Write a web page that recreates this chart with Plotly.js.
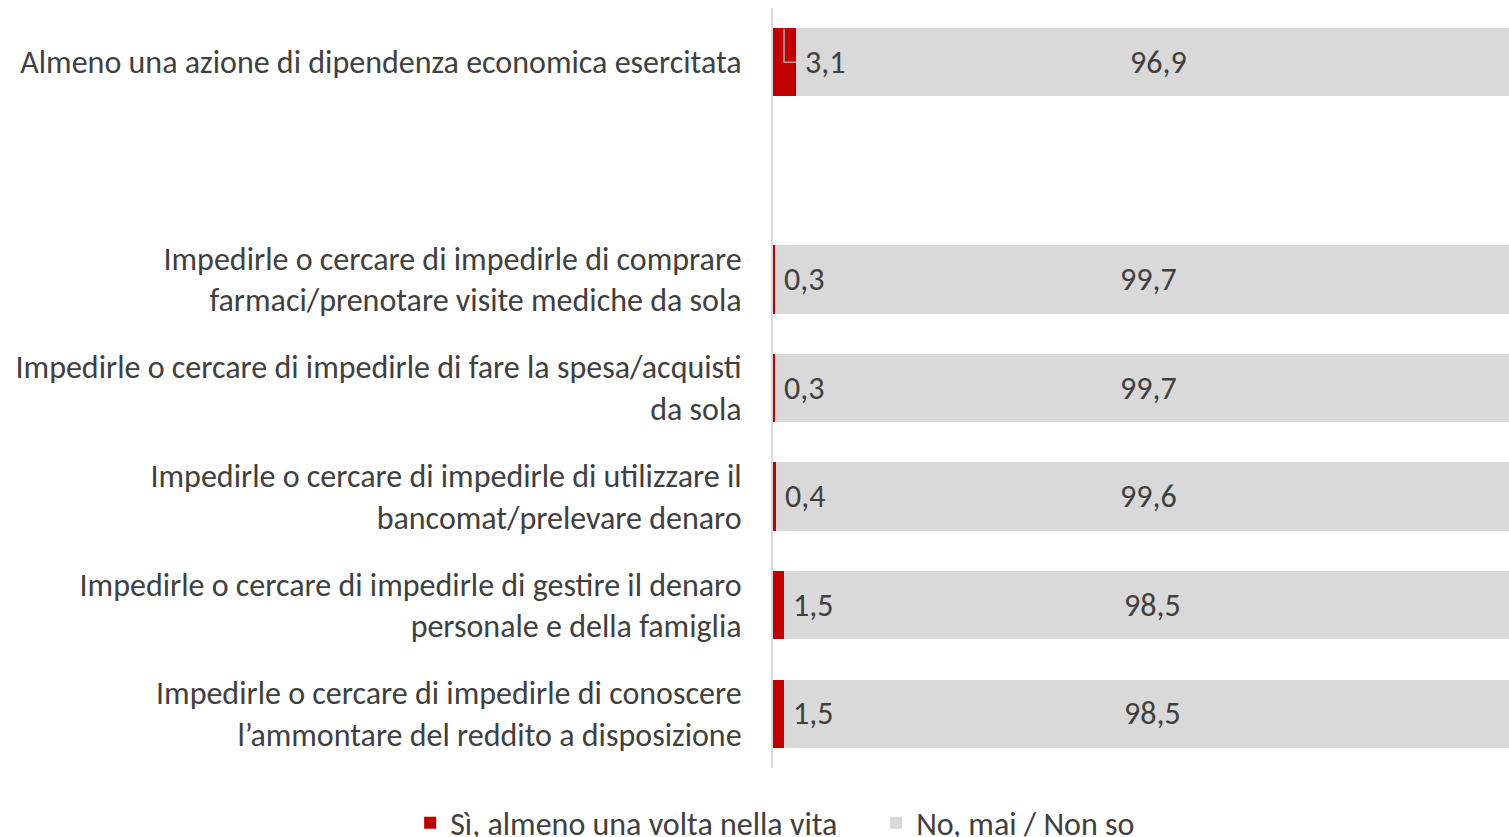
<!DOCTYPE html>
<html><head><meta charset="utf-8">
<script src="https://cdn.plot.ly/plotly-3.0.1.min.js"></script>
<style>html,body{margin:0;padding:0;background:#fff;overflow:hidden}#chart{width:1509px;height:870px}</style>
</head><body><div id="chart"></div>
<script>
const categories = [
  "Almeno una azione di dipendenza economica esercitata",
  " ",
  "Impedirle o cercare di impedirle di comprare<br>farmaci/prenotare visite mediche da sola",
  "Impedirle o cercare di impedirle di fare la spesa/acquisti<br>da sola",
  "Impedirle o cercare di impedirle di utilizzare il<br>bancomat/prelevare denaro",
  "Impedirle o cercare di impedirle di gestire il denaro<br>personale e della famiglia",
  "Impedirle o cercare di impedirle di conoscere<br>l’ammontare del reddito a disposizione"
];
const siValues = [3.1, null, 0.3, 0.3, 0.4, 1.5, 1.5];
const noValues = [96.9, null, 99.7, 99.7, 99.6, 98.5, 98.5];
const seriesNames = ["Sì, almeno una volta nella vita", "No, mai / Non so"];

const fmt = v => v == null ? "" : v.toFixed(1).replace(".", ",");
const FONT = "Calibri, Carlito, 'Open Sans', sans-serif";
const TXT = "#404040";
const FS = 32;

const traces = [
  {type:"bar", orientation:"h", name:seriesNames[0], y:categories, x:siValues,
   marker:{color:"#c00000"}, hoverinfo:"skip"},
  {type:"bar", orientation:"h", name:seriesNames[1], y:categories, x:noValues,
   marker:{color:"#d9d9d9"}, hoverinfo:"skip"}
];

const annotations = [];
categories.forEach((c,i)=>{
  if (siValues[i] == null) return;
  annotations.push({x:siValues[i], y:c, xref:"x", yref:"y", text:fmt(siValues[i]),
    showarrow:false, xanchor:"left", xshift:7, font:{family:FONT, size:FS, color:TXT}});
  annotations.push({x:siValues[i] + noValues[i]/2, y:c, xref:"x", yref:"y", text:fmt(noValues[i]),
    showarrow:false, xanchor:"center", xshift:6, font:{family:FONT, size:FS, color:TXT}});
});

const layout = {
  width:1509, height:870,
  margin:{l:773, r:0, t:8, b:102},
  barmode:"stack", bargap:0.37,
  paper_bgcolor:"#fff", plot_bgcolor:"#fff",
  font:{family:FONT, size:FS, color:TXT},
  xaxis:{range:[0,100], showgrid:false, zeroline:false, showticklabels:false, showline:false, fixedrange:true},
  yaxis:{type:"category", categoryorder:"array", categoryarray:categories, autorange:"reversed",
    showline:true, linecolor:"#d9d9d9", linewidth:2, ticks:"", ticklabelstandoff:23,
    tickfont:{family:FONT, size:FS, color:TXT}, showgrid:false, zeroline:false},
  showlegend:true,
  legend:{orientation:"h", x:-0.493, xanchor:"left", y:-0.036, yanchor:"top",
    font:{family:FONT, size:FS, color:TXT}, traceorder:"normal", itemwidth:30,
    entrywidth:421, entrywidthmode:"pixels"},
  annotations:annotations,
  shapes:[{type:"path", xref:"x", yref:"y",
    path:"M 1.5 -0.31 L 1.5 0 L 3.1 0", line:{color:"#a6a6a6", width:1.5}}]
};
Plotly.newPlot("chart", traces, layout, {staticPlot:true, displayModeBar:false});
</script></body></html>
